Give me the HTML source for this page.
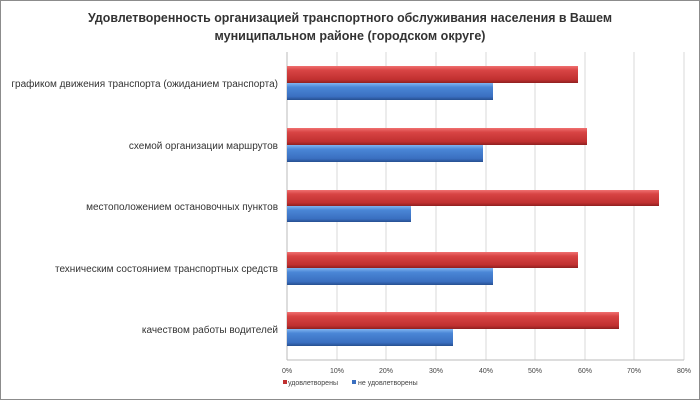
<!DOCTYPE html>
<html><head><meta charset="utf-8"><style>
body{margin:0;background:#fff}
svg text{font-family:"Liberation Sans",sans-serif}
</style></head><body>
<svg width="700" height="400" xmlns="http://www.w3.org/2000/svg">
<defs>
<linearGradient id="r" x1="0" y1="0" x2="0" y2="1"><stop offset="0" stop-color="#f07070"/><stop offset="0.25" stop-color="#d84444"/><stop offset="0.8" stop-color="#c03030"/><stop offset="1" stop-color="#8f2020"/></linearGradient>
<linearGradient id="b" x1="0" y1="0" x2="0" y2="1"><stop offset="0" stop-color="#80b4f0"/><stop offset="0.25" stop-color="#4a86d6"/><stop offset="0.8" stop-color="#3a6fc0"/><stop offset="1" stop-color="#264f90"/></linearGradient>
</defs>
<rect x="0.5" y="0.5" width="699" height="399" fill="#fff" stroke="#8c8c8c"/>
<text x="350" y="22" text-anchor="middle" font-size="13" font-weight="bold" fill="#333" textLength="524" lengthAdjust="spacingAndGlyphs">Удовлетворенность организацией транспортного обслуживания населения в Вашем</text>
<text x="350" y="40" text-anchor="middle" font-size="13" font-weight="bold" fill="#333" textLength="271" lengthAdjust="spacingAndGlyphs">муниципальном районе (городском округе)</text>
<g stroke="#d9d9d9">
<line x1="337" y1="52" x2="337" y2="360"/><line x1="386" y1="52" x2="386" y2="360"/><line x1="436" y1="52" x2="436" y2="360"/><line x1="486" y1="52" x2="486" y2="360"/><line x1="535" y1="52" x2="535" y2="360"/><line x1="585" y1="52" x2="585" y2="360"/><line x1="634" y1="52" x2="634" y2="360"/><line x1="684" y1="52" x2="684" y2="360"/>
</g>
<line x1="287" y1="52" x2="287" y2="360" stroke="#bbb"/>
<line x1="287" y1="360" x2="684" y2="360" stroke="#bbb"/>
<g>
<rect x="287" y="66" width="291" height="17" fill="url(#r)"/><rect x="287" y="83" width="206" height="17" fill="url(#b)"/>
<rect x="287" y="128" width="300" height="17" fill="url(#r)"/><rect x="287" y="145" width="196" height="17" fill="url(#b)"/>
<rect x="287" y="190" width="372" height="16" fill="url(#r)"/><rect x="287" y="206" width="124" height="16" fill="url(#b)"/>
<rect x="287" y="252" width="291" height="16" fill="url(#r)"/><rect x="287" y="268" width="206" height="17" fill="url(#b)"/>
<rect x="287" y="312" width="332" height="17" fill="url(#r)"/><rect x="287" y="329" width="166" height="17" fill="url(#b)"/>
</g>
<g font-size="10" fill="#333" text-anchor="end">
<text x="278" y="87">графиком движения транспорта (ожиданием транспорта)</text>
<text x="278" y="149">схемой организации маршрутов</text>
<text x="278" y="210">местоположением остановочных пунктов</text>
<text x="278" y="272">техническим состоянием транспортных средств</text>
<text x="278" y="333">качеством работы водителей</text>
</g>
<g font-size="7" fill="#444" text-anchor="middle">
<text x="287" y="373">0%</text><text x="337" y="373">10%</text><text x="386" y="373">20%</text><text x="436" y="373">30%</text><text x="486" y="373">40%</text><text x="535" y="373">50%</text><text x="585" y="373">60%</text><text x="634" y="373">70%</text><text x="684" y="373">80%</text>
</g>
<rect x="283" y="380" width="4" height="4" fill="#c03030"/>
<text x="288" y="385" font-size="7" fill="#444">удовлетворены</text>
<rect x="352" y="380" width="4" height="4" fill="#3a6fc0"/>
<text x="358" y="385" font-size="7" fill="#444">не удовлетворены</text>
</svg>
</body></html>
